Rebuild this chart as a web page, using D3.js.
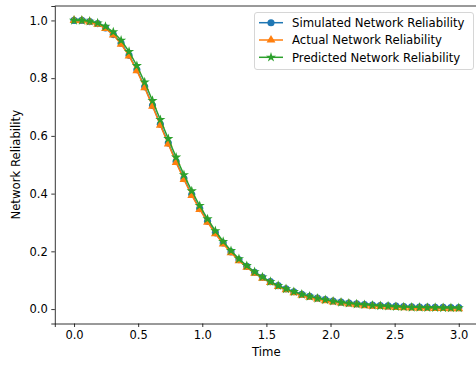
<!DOCTYPE html>
<html><head><meta charset="utf-8">
<script src="https://cdn.jsdelivr.net/npm/d3@7"></script>
<style>body{margin:0;background:#fff}svg{display:block;font-family:"DejaVu Sans",sans-serif}</style>
</head><body>
<script>
const times = [0.000,0.061,0.122,0.184,0.245,0.306,0.367,0.429,0.490,0.551,0.612,0.673,0.735,0.796,0.857,0.918,0.980,1.041,1.102,1.163,1.224,1.286,1.347,1.408,1.469,1.531,1.592,1.653,1.714,1.776,1.837,1.898,1.959,2.020,2.082,2.143,2.204,2.265,2.327,2.388,2.449,2.510,2.571,2.633,2.694,2.755,2.816,2.878,2.939,3.000];
const simulated = [1.000,1.000,0.996,0.989,0.974,0.951,0.921,0.879,0.829,0.770,0.705,0.640,0.575,0.511,0.452,0.397,0.348,0.304,0.264,0.229,0.198,0.171,0.148,0.127,0.110,0.095,0.081,0.070,0.060,0.051,0.044,0.038,0.033,0.028,0.024,0.021,0.018,0.016,0.014,0.012,0.011,0.010,0.009,0.008,0.007,0.007,0.006,0.006,0.005,0.005];
const actual = [1.000,0.999,0.995,0.987,0.972,0.950,0.918,0.877,0.826,0.767,0.703,0.637,0.572,0.508,0.449,0.394,0.345,0.301,0.261,0.226,0.195,0.168,0.145,0.124,0.107,0.092,0.078,0.067,0.057,0.048,0.041,0.035,0.029,0.025,0.021,0.018,0.015,0.012,0.010,0.009,0.007,0.006,0.005,0.004,0.003,0.003,0.002,0.002,0.001,0.001];
const predicted = [1.000,1.000,0.997,0.991,0.979,0.960,0.931,0.892,0.843,0.786,0.722,0.656,0.590,0.526,0.465,0.409,0.358,0.312,0.271,0.234,0.202,0.174,0.150,0.129,0.111,0.095,0.081,0.070,0.060,0.051,0.044,0.037,0.032,0.027,0.023,0.020,0.017,0.015,0.013,0.011,0.010,0.008,0.007,0.006,0.006,0.005,0.005,0.004,0.004,0.004];
const xTicks = [0,0.5,1,1.5,2,2.5,3];
const yTicks = [0,0.2,0.4,0.6,0.8,1.0];
const seriesNames = ["Simulated Network Reliability","Actual Network Reliability","Predicted Network Reliability"];
const seriesColors = ["#1f77b4","#ff7f0e","#2ca02c"];

const W=476,H=365;
const L=54.8,R=478,T=6,B=323.5;
const svg=d3.select("body").append("svg").attr("width",W).attr("height",H);
const x=d3.scaleLinear().domain([-0.15,3.15]).range([L,R]);
const y=d3.scaleLinear().domain([-0.05,1.05]).range([B,T]);

const symbols=[d3.symbolCircle,d3.symbolTriangle,d3.symbolStar];
const sizes=[40,34,32];
const data=[simulated,actual,predicted];

const plot=svg.append("g");
data.forEach((vals,k)=>{
  const pts=times.map((t,i)=>[t,vals[i]]);
  plot.append("path").datum(pts)
    .attr("d",d3.line().x(d=>x(d[0])).y(d=>y(d[1])))
    .attr("fill","none").attr("stroke",seriesColors[k]).attr("stroke-width",1.5);
  plot.selectAll(null).data(pts).enter().append("path")
    .attr("d",d3.symbol().type(symbols[k]).size(sizes[k]))
    .attr("transform",d=>`translate(${x(d[0])},${y(d[1])})`)
    .attr("fill",seriesColors[k]);
});

// axes
const xa=svg.append("g").attr("transform",`translate(0,${B})`)
  .call(d3.axisBottom(x).tickValues(xTicks).tickFormat(d3.format(".1f")).tickSize(3.5).tickPadding(3.5));
const ya=svg.append("g").attr("transform",`translate(${L},0)`)
  .call(d3.axisLeft(y).tickValues(yTicks).tickFormat(d3.format(".1f")).tickSize(3.5).tickPadding(3.5));
[xa,ya].forEach(a=>{a.selectAll("text").attr("font-size",11.5).attr("fill","#000").attr("font-family","DejaVu Sans");
  a.selectAll("line").attr("stroke","#000").attr("stroke-width",0.8);
  a.select(".domain").attr("stroke","#000").attr("stroke-width",0.8);});
svg.append("line").attr("x1",L).attr("x2",R).attr("y1",T).attr("y2",T).attr("stroke","#000").attr("stroke-width",0.8);

svg.append("text").attr("x",(L+R)/2).attr("y",356).attr("text-anchor","middle").attr("font-size",11.7).text("Time");
svg.append("text").attr("transform",`translate(20,${(T+B)/2}) rotate(-90)`).attr("text-anchor","middle").attr("font-size",11.7).text("Network Reliability");

// legend
const lg=svg.append("g");
lg.append("rect").attr("x",254.5).attr("y",12.5).attr("width",219).attr("height",57).attr("rx",2.5)
  .attr("fill","#fff").attr("fill-opacity",0.8).attr("stroke","#ccc").attr("stroke-width",0.8);
seriesNames.forEach((n,k)=>{
  const yy=22.7+k*17.3;
  lg.append("line").attr("x1",259).attr("x2",283).attr("y1",yy).attr("y2",yy).attr("stroke",seriesColors[k]).attr("stroke-width",1.5);
  lg.append("path").attr("d",d3.symbol().type(symbols[k]).size(sizes[k])).attr("transform",`translate(271,${yy})`).attr("fill",seriesColors[k]);
  lg.append("text").attr("x",292).attr("y",yy+4.2).attr("font-size",11.7).attr("fill","#000").text(n);
});
</script>
</body></html>
